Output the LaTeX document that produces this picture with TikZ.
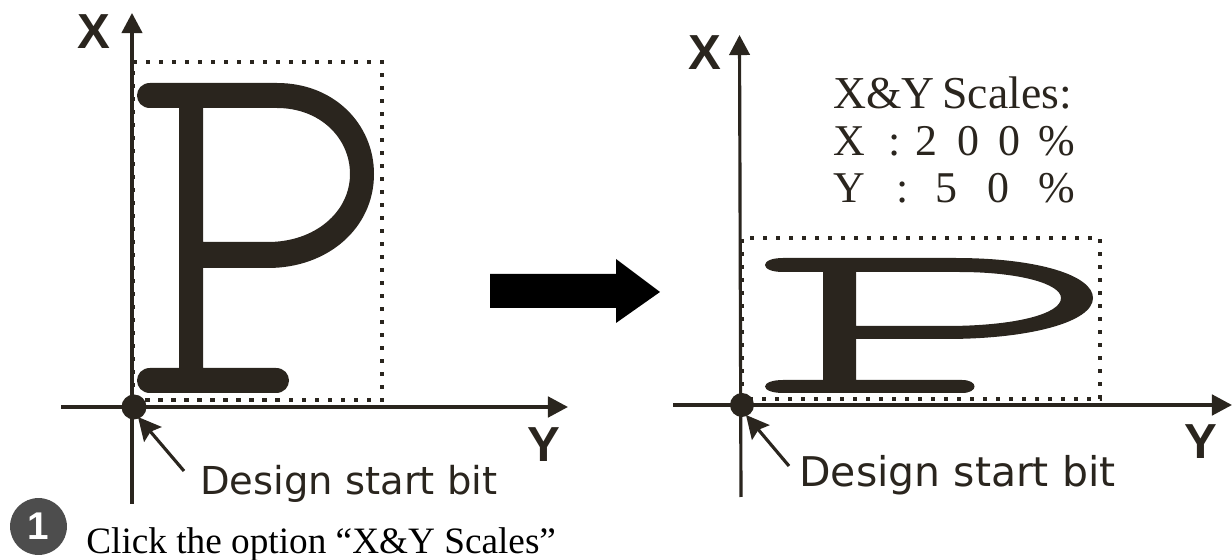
\documentclass[tikz,border=0pt]{standalone}
\usepackage{fontspec}
\usetikzlibrary{arrows.meta}
\setmainfont{Liberation Serif}
\newfontfamily\designfont{DejaVu Sans}
\newfontfamily\axisfont{Liberation Sans}[Scale=1.0]
\definecolor{inkdark}{HTML}{2A251E}
\definecolor{stepgray}{HTML}{4D4D4D}

\tikzset{
    axisline/.style={draw=inkdark, line width=2.1pt, -{Triangle[length=11.4pt,width=11.6pt]}},
    pointer/.style={draw=inkdark, line width=1.8pt, -{Stealth[length=13pt,width=13pt,inset=2pt]}},
    dotbox/.style={draw=inkdark, line width=2.5pt, dash pattern=on 2.5pt off 4.9pt},
    axislabel/.style={inkdark, anchor=base west, inner sep=0pt, font=\axisfont\bfseries\fontsize{28}{28}\selectfont},
    designlabel/.style={inkdark, anchor=base west, inner sep=0pt, font=\designfont\fontsize{#1}{#1}\selectfont},
    scaletext/.style={inkdark, anchor=base west, inner sep=0pt, font=\fontsize{25}{25}\selectfont},
}

\begin{document}
\begin{tikzpicture}[x=0.02cm, y=-0.02cm]
    \useasboundingbox (0,0) rectangle (1232,560);

    % points of the left figure
    \coordinate (originL) at (134,407);
    \coordinate (xstartL) at (132,504);
    \coordinate (xendL) at (132,13);
    \coordinate (ystartL) at (61,407);
    \coordinate (yendL) at (568,407);
    \coordinate (tailL) at (184,471);
    \coordinate (tipL) at (138,417);

    % points of the right figure
    \coordinate (originR) at (742,405);
    \coordinate (xstartR) at (741,497);
    \coordinate (xendR) at (739.5,35);
    \coordinate (ystartR) at (673,405);
    \coordinate (yendR) at (1232,405);
    \coordinate (tailR) at (789,466);
    \coordinate (tipR) at (746,415);

    % dotted boxes
    \draw[dotbox] (133,400) -- (133,62) -- (382,62) -- (382,400) -- cycle;
    \draw[dotbox] (742,399) -- (742,238) -- (1100,238) -- (1100,399) -- cycle;

    % letter P, left
    \fill[inkdark, even odd rule] (150,83) -- (277,83)
        .. controls (335,83) and (374,125) .. (374,174)
        .. controls (374,228) and (328,268) .. (268,268)
        -- (203,268) -- (203,368) -- (276,368)
        .. controls (284,368) and (289,374) .. (289,380.5)
        .. controls (289,387) and (284,393) .. (276,393)
        -- (150,393)
        .. controls (142,393) and (137,387) .. (137,380.5)
        .. controls (137,374) and (142,368) .. (150,368)
        -- (179,368) -- (179,108) -- (150,108)
        .. controls (142,108) and (137,102) .. (137,95.5)
        .. controls (137,89) and (142,83) .. (150,83) -- cycle
        (203,108) -- (277,108)
        .. controls (320,108) and (350,138) .. (350,174)
        .. controls (350,212) and (315,242) .. (268,242)
        -- (203,242) -- cycle;

    % letter P, right
    \fill[inkdark, even odd rule] (783,258) -- (955,258)
        .. controls (1040,258) and (1093,276) .. (1093,298)
        .. controls (1093,322) and (1030,339) .. (946,339)
        -- (856,339) -- (856,380) -- (962,380)
        .. controls (970,380) and (974.5,383) .. (974.5,386.5)
        .. controls (974.5,390) and (970,393) .. (962,393)
        -- (783,393)
        .. controls (772,393) and (765,390) .. (765,386.5)
        .. controls (765,383) and (772,380) .. (783,380)
        -- (823,380) -- (823,272) -- (783,272)
        .. controls (772,272) and (765,269) .. (765,265)
        .. controls (765,261) and (772,258) .. (783,258) -- cycle
        (856,272) -- (959,272)
        .. controls (1020,272) and (1061,284) .. (1061,298)
        .. controls (1061,314) and (1015,326) .. (946,326)
        -- (856,326) -- cycle;

    % axes
    \draw[axisline, line width=1.8pt] (xstartL) -- (xendL);
    \draw[axisline] (ystartL) -- (yendL);
    \draw[axisline, line width=1.8pt] (xstartR) -- (xendR);
    \draw[axisline] (ystartR) -- (yendR);

    % start bit dots and their arrows
    \fill[inkdark] (originL) circle (12.5);
    \fill[inkdark] (originR) circle (12);
    \draw[pointer] (tailL) -- (tipL);
    \draw[pointer] (tailR) -- (tipR);

    % axis names
    \node[axislabel] (xnameL) at (77,49) {X};
    \node[axislabel] (ynameL) at (527,462) {Y};
    \node[axislabel] (xnameR) at (688,70) {X};
    \node[axislabel] (ynameR) at (1184,459) {Y};

    % start bit labels
    \node[designlabel=21.9] (designL) at (200,495) {Design start bit};
    \node[designlabel=23.3] (designR) at (799,487) {Design start bit};

    % middle arrow
    \fill[black] (490,274) -- (616,274) -- (616,259) -- (660,292) -- (616,323) -- (616,308) -- (490,308) -- cycle;

    % scale values
    \node[scaletext, font=\fontsize{26}{26}\selectfont] (scalehead) at (833,109) {X\&Y\,Scales:};
    \foreach \x/\ch [count=\i] in {833/X, 888/:, 915/2, 957/0, 998/0, 1038/\%} {
        \node[scaletext] (rowx\i) at (\x,156) {\ch};
    }
    \foreach \x/\ch [count=\i] in {833/Y, 896/:, 935/5, 987/0, 1038/\%} {
        \node[scaletext] (rowy\i) at (\x,203) {\ch};
    }

    % step mark and its text
    \node[circle, fill=stepgray, minimum size=32.4pt, inner sep=0pt, text=white,
        font=\axisfont\bfseries\fontsize{22}{22}\selectfont] (stepmark) at (38.5,526.5) {1};
    \node[anchor=base west, inner sep=0pt, font=\fontsize{21.2}{21.2}\selectfont] (clicktext) at (86,554) {Click the option ``X\&Y Scales''};
\end{tikzpicture}
\end{document}
